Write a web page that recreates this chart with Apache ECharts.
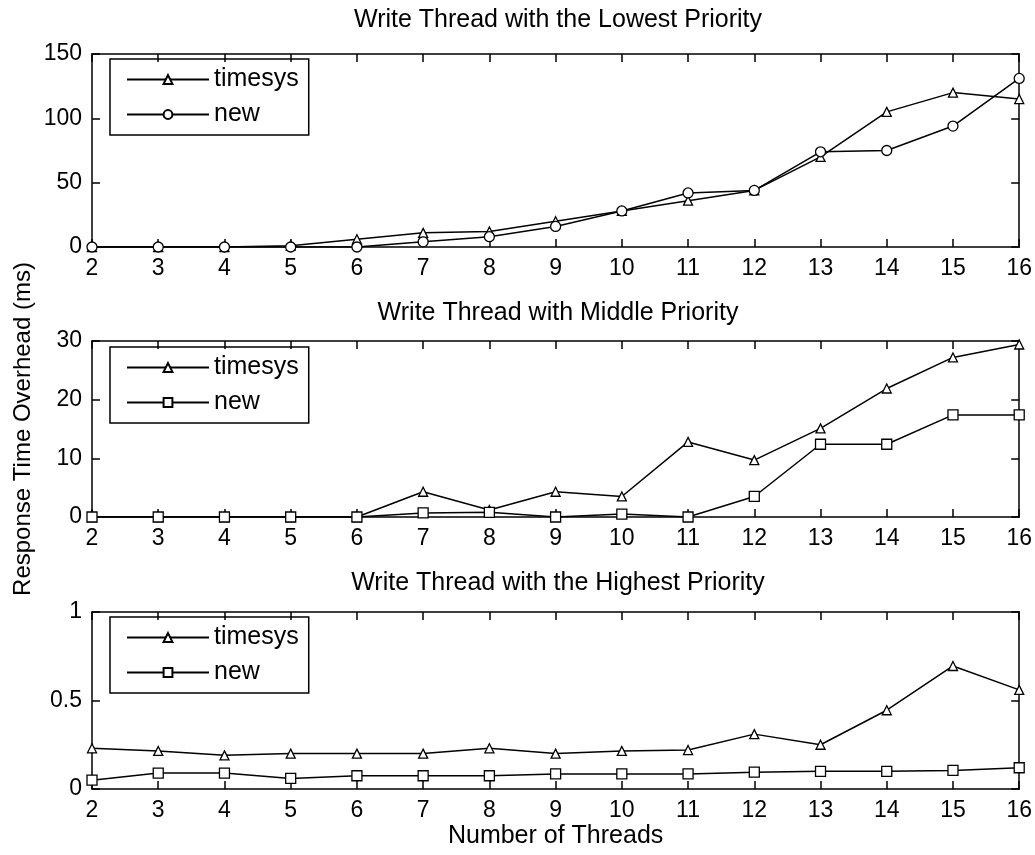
<!DOCTYPE html>
<html>
<head>
<meta charset="utf-8">
<script src="https://cdn.jsdelivr.net/npm/echarts@6/dist/echarts.min.js"></script>
<style>
  html, body { margin: 0; padding: 0; background: #fff; }
  #chart { width: 1035px; height: 855px; }
</style>
</head>
<body>
<div id="chart"></div>
<script>
// number of threads (x axis)
const threads = [2, 3, 4, 5, 6, 7, 8, 9, 10, 11, 12, 13, 14, 15, 16];

// lowest priority
const lowTimesys = [0, 0, 0, 1, 6, 11, 12, 20, 28, 36, 44, 70, 105, 120, 115];
const lowNew = [0, 0, 0, 0, 0, 4, 8, 16, 28, 42, 44, 74, 75, 94, 131];

// middle priority
const midTimesys = [0, 0, 0, 0, 0, 4.3, 1.2, 4.3, 3.5, 12.8, 9.7, 15.1, 21.9, 27.2, 29.4];
const midNew = [0, 0, 0, 0, 0, 0.7, 0.8, 0, 0.5, 0, 3.5, 12.4, 12.4, 17.4, 17.4];

// highest priority
const highTimesys = [0.23, 0.215, 0.19, 0.2, 0.2, 0.2, 0.23, 0.2, 0.215, 0.22, 0.31, 0.25, 0.445, 0.695, 0.56];
const highNew = [0.05, 0.09, 0.09, 0.06, 0.075, 0.075, 0.075, 0.085, 0.085, 0.085, 0.095, 0.1, 0.1, 0.105, 0.12];

const titles = [
  'Write Thread with the Lowest Priority',
  'Write Thread with Middle Priority',
  'Write Thread with the Highest Priority'
];
const yRanges = [[0, 150, 50], [0, 30, 10], [0, 1, 0.5]];

const chart = echarts.init(document.getElementById('chart'));
const FONT = 'Liberation Sans';

const grids = [
  { left: 92, width: 930, top: 54, height: 193 },
  { left: 92, width: 930, top: 341, height: 176 },
  { left: 92, width: 930, top: 612, height: 177 }
];

const axisLine = { show: true, onZero: false, lineStyle: { color: '#000', width: 1.5 } };
const axisTick = { show: true, inside: true, length: 8, lineStyle: { color: '#000', width: 1.5 } };
const labelStyle = { color: '#000', fontFamily: FONT, fontSize: 23 };

const xAxes = [];
const yAxes = [];
grids.forEach((g, i) => {
  const xBase = { type: 'value', gridIndex: i, min: 2, max: 16, interval: 1,
    axisLine, axisTick, splitLine: { show: false } };
  xAxes.push(Object.assign({}, xBase, { position: 'bottom',
    axisLabel: Object.assign({ margin: 10 }, labelStyle),
    name: i === 2 ? 'Number of Threads' : '',
    nameLocation: 'middle', nameGap: 35,
    nameTextStyle: { color: '#000', fontFamily: FONT, fontSize: 25 } }));
  xAxes.push(Object.assign({}, xBase, { position: 'top', axisLabel: { show: false } }));

  const r = yRanges[i];
  const yBase = { type: 'value', gridIndex: i, min: r[0], max: r[1], interval: r[2],
    axisLine, axisTick, splitLine: { show: false } };
  yAxes.push(Object.assign({}, yBase, { position: 'left',
    axisLabel: Object.assign({ margin: 10 }, labelStyle),
    name: i === 1 ? 'Response Time Overhead (ms)' : '',
    nameLocation: 'middle', nameGap: 57,
    nameTextStyle: { color: '#000', fontFamily: FONT, fontSize: 24 } }));
  yAxes.push(Object.assign({}, yBase, { position: 'right', axisLabel: { show: false } }));
});

function pairs(vals) {
  return threads.map((t, k) => [t, vals[k]]);
}

function makeSeries(name, vals, symbol, i) {
  return {
    name: name,
    type: 'line',
    xAxisIndex: 2 * i,
    yAxisIndex: 2 * i,
    data: pairs(vals),
    symbol: symbol,
    symbolSize: symbol === 'triangle' ? 9 : 10,
    showAllSymbol: true,
    lineStyle: { color: '#000', width: 1.5 },
    itemStyle: { color: '#fff', borderColor: '#000', borderWidth: 1.3 },
    emphasis: { disabled: true },
    animation: false
  };
}

// top uses circles for "new", middle and bottom use squares
const series = [
  makeSeries('timesys', lowTimesys, 'triangle', 0),
  makeSeries('new', lowNew, 'circle', 0),
  makeSeries('timesys', midTimesys, 'triangle', 1),
  makeSeries('new ', midNew, 'rect', 1),
  makeSeries('timesys', highTimesys, 'triangle', 2),
  makeSeries('new ', highNew, 'rect', 2)
];

const legendTops = [59, 347, 617];
const legends = legendTops.map((t, i) => ({
  left: 110,
  top: t,
  orient: 'vertical',
  data: ['timesys', i === 0 ? 'new' : 'new '],
  formatter: n => n.trim(),
  itemWidth: 82,
  itemHeight: 11,
  itemGap: 10,
  padding: [8, 10, 8, 16],
  borderColor: '#000',
  borderWidth: 1.5,
  selectedMode: false,
  textStyle: { color: '#000', fontFamily: FONT, fontSize: 25 }
}));

const option = {
  backgroundColor: '#fff',
  animation: false,
  title: titles.map((t, i) => ({
    text: t,
    left: 553,
    textAlign: 'center',
    top: [3, 296, 566][i],
    textStyle: { color: '#000', fontFamily: FONT, fontSize: 25, fontWeight: 'normal' }
  })),
  legend: legends,
  grid: grids,
  xAxis: xAxes,
  yAxis: yAxes,
  series: series
};

chart.setOption(option);
</script>
</body>
</html>
